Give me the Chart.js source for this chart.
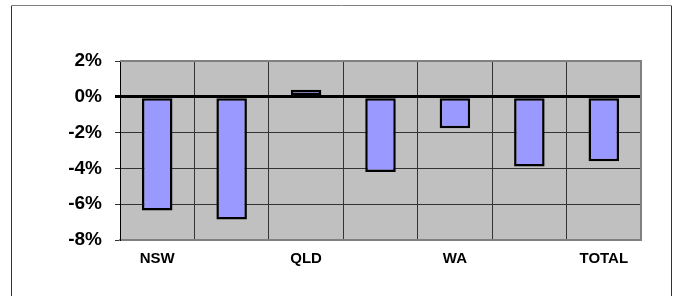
<!DOCTYPE html>
<html lang="en">
<head>
  <meta charset="UTF-8">
  <title>Change by state</title>
  <script src="https://cdn.jsdelivr.net/npm/chart.js"></script>
  <style>
    body { margin: 0; background: #fff; }
  </style>
</head>
<body>
  <canvas id="stateChart" width="676" height="296"></canvas>

  <script>
    // chart values
    var regions = ['NSW', 'VIC', 'QLD', 'SA', 'WA', 'TAS', 'TOTAL'];
    var change = [-6.35, -6.85, 0.4, -4.2, -1.75, -3.9, -3.6];
    var yMin = -8, yMax = 2, yStep = 2;

    // grey plot background, outer frame, plot border
    var frame = {
      id: 'frame',
      beforeDraw: function (chart) {
        var c = chart.ctx, a = chart.chartArea;
        c.save();
        c.fillStyle = '#C0C0C0';
        c.fillRect(a.left, a.top, a.right - a.left, a.bottom - a.top);
        c.lineWidth = 1;
        c.strokeStyle = '#808080';
        c.beginPath();
        c.moveTo(11.5, 300); c.lineTo(11.5, 5.5); c.lineTo(671.5, 5.5); c.lineTo(671.5, 300);
        c.stroke();
        c.strokeStyle = '#333';
        c.beginPath();
        c.moveTo(11.5, 300); c.lineTo(11.5, 6);
        c.moveTo(671.5, 6); c.lineTo(671.5, 300);
        c.stroke();
        c.restore();
      },
      beforeDatasetsDraw: function (chart) {
        var c = chart.ctx, a = chart.chartArea;
        c.save();
        c.strokeStyle = '#808080';
        c.lineWidth = 2;
        c.beginPath();
        c.moveTo(a.left, a.top);
        c.lineTo(a.right, a.top);
        c.lineTo(a.right, a.bottom);
        c.stroke();
        c.restore();
      }
    };

    var ctx = document.getElementById('stateChart').getContext('2d');
    new Chart(ctx, {
      type: 'bar',
      data: {
        labels: regions,
        datasets: [{
          data: change,
          backgroundColor: '#9999FF',
          borderColor: '#000000',
          borderWidth: 2.5,
          borderSkipped: false,
          categoryPercentage: 1,
          barPercentage: 0.41
        }]
      },
      options: {
        responsive: false,
        animation: false,
        layout: { padding: { left: 0, right: 35, top: 61, bottom: 0 } },
        plugins: {
          legend: { display: false },
          tooltip: { enabled: false }
        },
        scales: {
          x: {
            afterFit: function (s) { s.height = 56; },
            grid: { color: '#333', lineWidth: 1, drawTicks: false },
            border: { color: '#808080', width: 2 },
            ticks: {
              autoSkip: false,
              maxRotation: 0,
              padding: 10,
              color: '#000',
              font: { family: 'Liberation Sans', size: 15, weight: 'bold' },
              callback: function (v, i) { return i % 2 === 0 ? this.getLabelForValue(v) : ''; }
            }
          },
          y: {
            min: yMin,
            max: yMax,
            afterFit: function (s) { s.width = 120; },
            grid: {
              color: function (c) { return c.tick && c.tick.value === 0 ? '#000' : '#333'; },
              lineWidth: function (c) { return c.tick && c.tick.value === 0 ? 3 : 1; },
              tickLength: 5
            },
            border: { color: '#000', width: 1 },
            ticks: {
              stepSize: yStep,
              padding: 13,
              color: '#000',
              font: { family: 'Liberation Sans', size: 19, weight: 'bold' },
              callback: function (v) { return v + '%'; }
            }
          }
        }
      },
      plugins: [frame]
    });
  </script>
</body>
</html>
